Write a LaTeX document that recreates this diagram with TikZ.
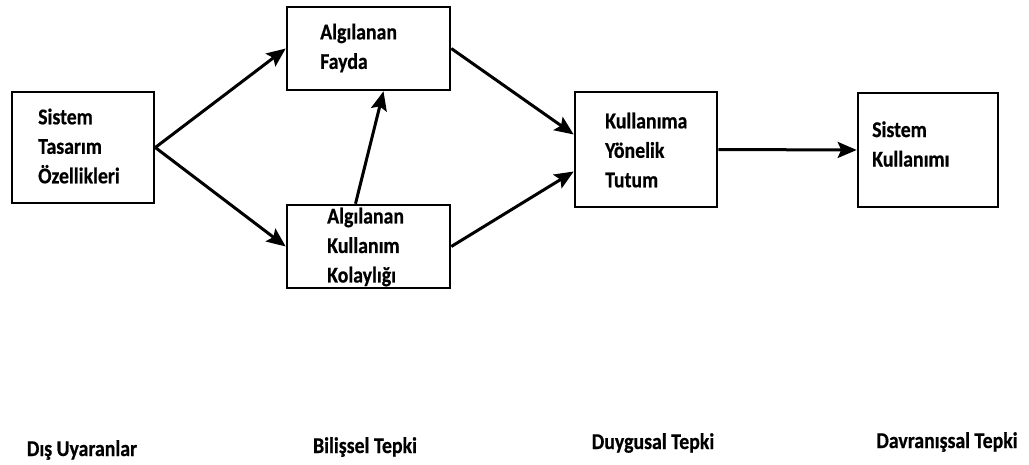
\documentclass[tikz,border=0pt]{standalone}
\usepackage{fontspec}
\setmainfont{Carlito}
\newfontfamily\labelfont[FakeStretch=0.88,FakeBold=0.6]{Carlito}
\usetikzlibrary{arrows.meta}
\begin{document}
\begin{tikzpicture}[x=1pt,y=-1pt,
  box/.style={draw=black,line width=2.6pt,inner sep=0pt,fill=white},
  boxtext/.style={anchor=west,inner sep=0pt,align=left,
    font=\labelfont\fontsize{22.5}{29.5}\selectfont\bfseries},
  stage/.style={inner sep=0pt,font=\labelfont\fontsize{22.5}{26}\selectfont\bfseries},
  flow/.style={line width=3pt,-{Stealth[length=19pt,width=16pt,inset=3.5pt]}}]
\useasboundingbox (0,0) rectangle (1029,464);
\fill[white] (0,0) rectangle (1029,464);

% boxes
\node[box,minimum width=142pt,minimum height=111pt] (sys) at (83,147.5) {};
\node[box,minimum width=163pt,minimum height=83pt] (fay) at (368.5,48.5) {};
\node[box,minimum width=163pt,minimum height=83pt] (kol) at (368.5,246.5) {};
\node[box,minimum width=142pt,minimum height=115pt] (tut) at (646,149.5) {};
\node[box,minimum width=140pt,minimum height=114pt] (kul) at (928,150) {};

% box labels
\node[boxtext] (tsys) at (38,146) {Sistem\\Tasarım\\Özellikleri};
\node[boxtext] (tfay) at (320,48) {Algılanan\\Fayda};
\node[boxtext] (tkol) at (327,247) {Algılanan\\Kullanım\\Kolaylığı};
\node[boxtext] (ttut) at (605,150) {Kullanıma\\Yönelik\\Tutum};
\node[boxtext] (tkul) at (872,144) {Sistem\\Kullanımı};

% connectors
\draw[flow] (sys.east) -- (fay.west);
\draw[flow] (sys.east) -- (kol.west);
\draw[flow] ([xshift=-13pt]kol.north) -- ([xshift=15pt]fay.south);
\draw[flow] (fay.east) -- ([yshift=15pt]tut.west);
\draw[flow] (kol.east) -- ([yshift=-22pt]tut.west);
\draw[flow] (tut.east) -- (kul.west);

% stage captions
\node[stage,anchor=base] (s1) at (82,456) {Dış Uyaranlar};
\node[stage,anchor=base] (s2) at (365,453) {Bilişsel Tepki};
\node[stage,anchor=base] (s3) at (653,449) {Duygusal Tepki};
\node[stage,anchor=base] (s4) at (947,448) {Davranışsal Tepki};
\end{tikzpicture}
\end{document}
